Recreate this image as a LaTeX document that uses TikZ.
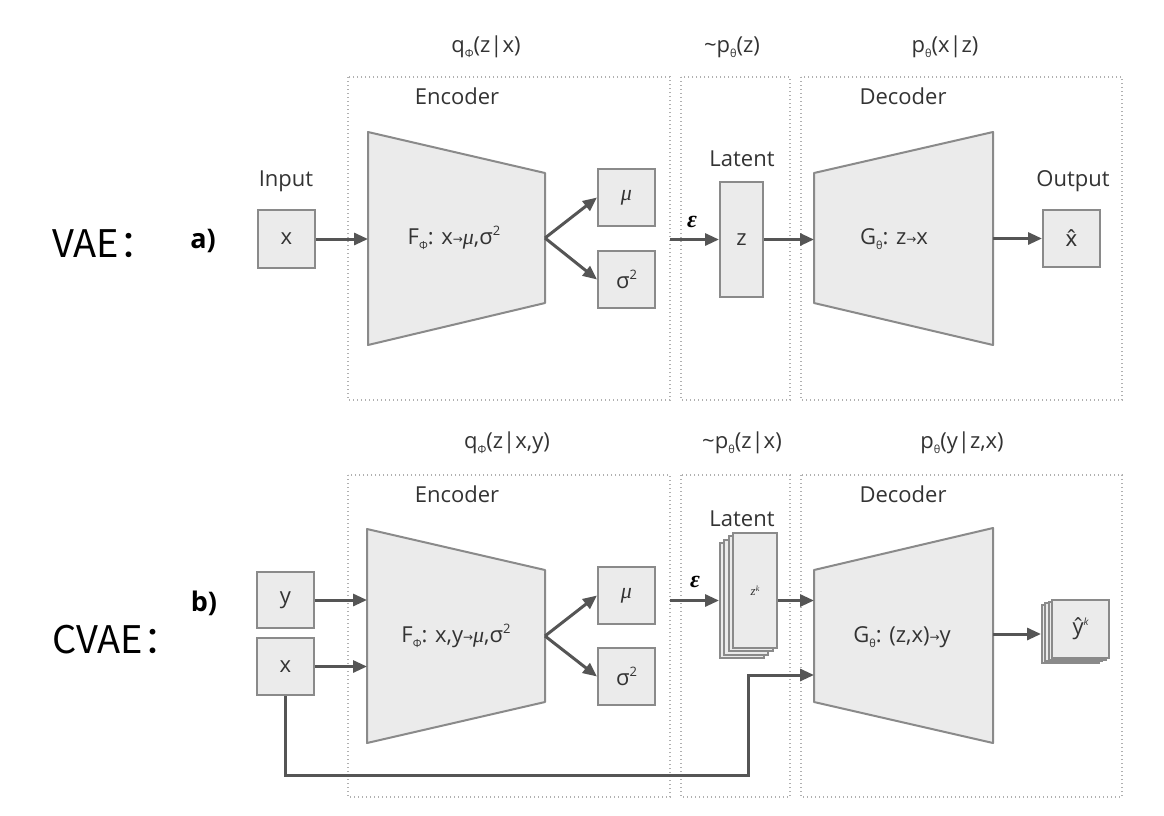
\documentclass[tikz,border=0pt]{standalone}
\usepackage{fontspec}
\setmainfont{Open Sans}
\newfontfamily\cjk{Noto Sans CJK SC}
\newfontfamily\sym{DejaVu Sans}
\newfontfamily\nsans{Noto Sans}
\newfontfamily\srf{Liberation Serif}
\usetikzlibrary{arrows.meta}
\definecolor{boxfill}{HTML}{EBEBEB}
\definecolor{boxdraw}{HTML}{8A8A8A}
\definecolor{arr}{HTML}{555555}
\definecolor{txt}{HTML}{333333}
\definecolor{dots}{HTML}{B0B0B0}
\newcommand{\sar}{\raisebox{0.05ex}{\sym\fontsize{12}{12}\selectfont →}}
\newcommand{\lowsub}[1]{\raisebox{-0.45ex}{\fontsize{11}{11}\selectfont #1}}
\newcommand{\supr}[1]{\raisebox{0.75ex}{\fontsize{13}{13}\selectfont #1}}
\newcommand{\mufont}{\fontsize{22}{26}\selectfont}
\newcommand{\mmu}{{\srf\itshape μ}}
\newcommand{\eps}{{\srf\bfseries\itshape ε}}
\begin{document}
\begin{tikzpicture}[x=1pt,y=-1pt,
  box/.style={draw=boxdraw, fill=boxfill, line width=2pt, inner sep=0pt, text=txt, font=\mufont},
  trap/.style={draw=boxdraw, fill=boxfill, line width=2pt, line join=round},
  region/.style={draw=dots, line width=1.4pt, dash pattern=on 1.4pt off 2.6pt},
  conn/.style={draw=arr, line width=3pt, -{Triangle[length=14pt,width=12pt]}},
  lab/.style={text=txt, font=\mufont, inner sep=0pt},
  big/.style={text=black, font=\cjk\fontsize{38}{42}\selectfont, inner sep=0pt, anchor=west},
  tag/.style={text=black, font=\bfseries\fontsize{27}{30}\selectfont, inner sep=0pt}
]
\useasboundingbox[fill=white] (0,0) rectangle (1164,815);

% ---------------- a) VAE ----------------
\draw[region] (348,77) rectangle (670,400);
\draw[region] (681,77) rectangle (790,400);
\draw[region] (801,77) rectangle (1122,400);

\node[lab] (qa) at (486,47) {q\lowsub{Φ}(z|x)};
\node[lab] (pza) at (732,47) {\textasciitilde p\lowsub{θ}(z)};
\node[lab] (pxa) at (945,47) {p\lowsub{θ}(x|z)};
\node[lab] (enca) at (457,96) {Encoder};
\node[lab] (deca) at (903,96) {Decoder};
\node[lab] (lata) at (742,159) {Latent};
\node[lab] (inlab) at (286,181) {Input};
\node[lab] (outlab) at (1073,181) {Output};

\node[big] (vae) at (52,244) {VAE：};
\node[tag] (ta) at (203,241) {a)};

\node[box, minimum width=57pt, minimum height=58pt] (in) at (286.5,239) {x};
\draw[trap] (368,132) -- (545,173) -- (545,303) -- (368,345) -- cycle;
\coordinate (encInA) at (368,239);
\coordinate (encOutA) at (545,238);
\node[lab] (fa) at (454,238) {F\lowsub{Φ}: x\sar\mmu,σ\supr{2}};
\node[box, minimum width=57pt, minimum height=57pt] (mua) at (626.5,197.5) {\mmu};
\node[box, minimum width=57pt, minimum height=57pt] (sia) at (626.5,279.5) {σ\supr{2}};

\node[box, minimum width=43pt, minimum height=115pt] (z) at (741.5,239.5) {z};
\coordinate (epsA) at (670,239.5);
\node[text=black, inner sep=0pt, font=\fontsize{24}{26}\selectfont] (ea) at (692,222) {\eps};

\draw[trap] (814,173) -- (993,132) -- (993,345) -- (814,303) -- cycle;
\coordinate (decInA) at (814,239.5);
\coordinate (decOutA) at (993,238.5);
\node[lab] (ga) at (894,239) {G\lowsub{θ}: z\sar x};
\node[box, minimum width=57pt, minimum height=57pt] (xh) at (1071.5,238.5) {\nsans x̂};

\draw[conn] (in.east) -- (encInA);
\draw[conn] (encOutA) -- (mua.west);
\draw[conn] (encOutA) -- (sia.west);
\draw[conn] (epsA) -- (z.west);
\draw[conn] (z.east) -- (decInA);
\draw[conn] (decOutA) -- (xh.west);

% ---------------- b) CVAE ----------------
\draw[region] (348,475) rectangle (670,797);
\draw[region] (681,475) rectangle (790,797);
\draw[region] (801,475) rectangle (1122,797);

\node[lab] (qb) at (507,443) {q\lowsub{Φ}(z|x,y)};
\node[lab] (pzb) at (742,443) {\textasciitilde p\lowsub{θ}(z|x)};
\node[lab] (pyb) at (962,443) {p\lowsub{θ}(y|z,x)};
\node[lab] (encb) at (457,494) {Encoder};
\node[lab] (decb) at (903,494) {Decoder};
\node[lab] (latb) at (742,519) {Latent};

\node[big] (cvae) at (52,640) {CVAE：};
\node[tag] (tb) at (204,603) {b)};

\node[box, minimum width=57pt, minimum height=56pt] (yb) at (285.5,600) {y};
\node[box, minimum width=57pt, minimum height=57pt] (xb) at (285.5,666.5) {x};
\draw[trap] (367,529) -- (545,570) -- (545,702) -- (367,743) -- cycle;
\coordinate (encInY) at (367,600);
\coordinate (encInX) at (367,666.5);
\coordinate (encOutB) at (545,636);
\node[lab] (fb) at (456,636) {F\lowsub{Φ}: x,y\sar\mmu,σ\supr{2}};
\node[box, minimum width=57pt, minimum height=57pt] (mub) at (626.5,595.5) {\mmu};
\node[box, minimum width=57pt, minimum height=57pt] (sib) at (626.5,676.5) {σ\supr{2}};

\node[box, minimum width=44pt, minimum height=115pt] (zk3) at (742,600.5) {};
\node[box, minimum width=44pt, minimum height=115pt] (zk2) at (746.3,597.2) {};
\node[box, minimum width=44pt, minimum height=115pt] (zk1) at (750.7,593.8) {};
\node[box, minimum width=44pt, minimum height=115pt, font=\srf\itshape\fontsize{13}{13}\selectfont] (zk) at (755,590.5) {z\raisebox{0.6ex}{\fontsize{8}{8}\selectfont k}};
\coordinate (epsB) at (670,600.5);
\node[text=black, inner sep=0pt, font=\fontsize{24}{26}\selectfont] (eb) at (695,582) {\eps};

\draw[trap] (814,570) -- (993,528) -- (993,743) -- (814,702) -- cycle;
\coordinate (decInZ) at (814,600.5);
\coordinate (decInX) at (814,675);
\coordinate (decOutB) at (993,634);
\coordinate (xturn) at (748,775);
\node[lab] (gb) at (902,637) {G\lowsub{θ}: (z,x)\sar y};

\node[box, minimum width=57pt, minimum height=58pt] (yk3) at (1070.5,634) {};
\node[box, minimum width=57pt, minimum height=58pt] (yk2) at (1073.8,632.3) {};
\node[box, minimum width=57pt, minimum height=58pt] (yk1) at (1077.2,630.7) {};
\node[box, minimum width=57pt, minimum height=58pt] (yk) at (1080.5,629) {ŷ\supr{\fontsize{10}{10}\selectfont\itshape k}};

\draw[conn] (yb.east) -- (encInY);
\draw[conn] (xb.east) -- (encInX);
\draw[conn] (encOutB) -- (mub.west);
\draw[conn] (encOutB) -- (sib.west);
\draw[conn] (epsB) -- (zk3.west);
\draw[conn] (zk.east |- decInZ) -- (decInZ);
\draw[conn] (decOutB) -- (yk3.west);
\draw[conn] (xb.south) |- (xturn) |- (decInX);
\end{tikzpicture}
\end{document}
